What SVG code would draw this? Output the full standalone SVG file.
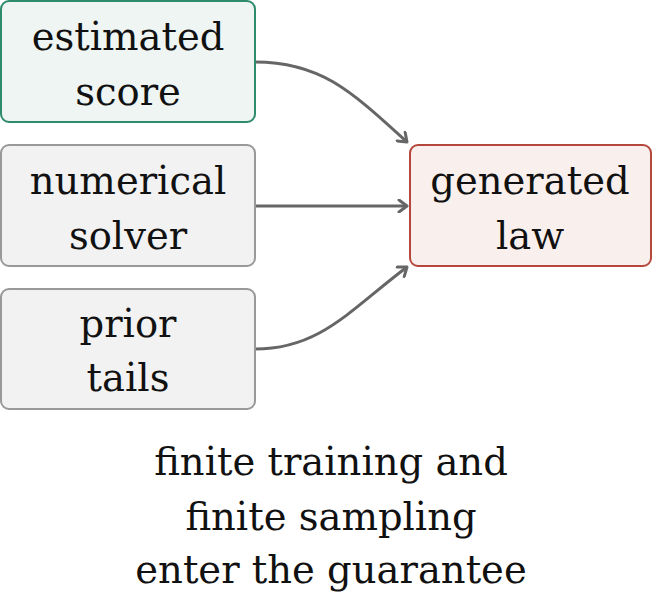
<svg xmlns="http://www.w3.org/2000/svg" width="652" height="598" viewBox="0 0 652 598">
<defs>
<style>
.t{font-family:"DejaVu Serif","Liberation Serif",serif;font-size:38.5px;fill:#111;text-anchor:middle}
.e{fill:none;stroke:#666;stroke-width:3}
</style>
<marker id="ah" markerWidth="14" markerHeight="14" refX="0" refY="0" viewBox="-10 -7 12 14" orient="auto" markerUnits="userSpaceOnUse">
<path d="M-8,-6 L0,0 L-8,6" fill="none" stroke="#666" stroke-width="3" stroke-linecap="round" stroke-linejoin="round"/>
</marker>
</defs>
<rect width="652" height="598" fill="#fff"/>
<g id="connectors">
<path class="e" d="M255,62 C320,62 350,90 407,142" marker-end="url(#ah)"/>
<path class="e" d="M255,206 L407,206" marker-end="url(#ah)"/>
<path class="e" d="M255,349 C320,349 350,310 407,267" marker-end="url(#ah)"/>
</g>
<g id="estimated-score">
<rect x="1" y="1" width="254" height="121" rx="8" fill="#eef5f2" stroke="#2e8b6e" stroke-width="2"/>
<text class="t" x="128" y="50">estimated</text>
<text class="t" x="128" y="105">score</text>
</g>
<g id="numerical-solver">
<rect x="1" y="145" width="254" height="121" rx="8" fill="#f2f2f2" stroke="#999" stroke-width="2"/>
<text class="t" x="128" y="194">numerical</text>
<text class="t" x="128" y="249">solver</text>
</g>
<g id="prior-tails">
<rect x="1" y="289" width="254" height="120" rx="8" fill="#f2f2f2" stroke="#999" stroke-width="2"/>
<text class="t" x="128" y="337">prior</text>
<text class="t" x="128" y="391">tails</text>
</g>
<g id="generated-law">
<rect x="410" y="145" width="241" height="121" rx="8" fill="#f9f0ee" stroke="#b5473c" stroke-width="2"/>
<text class="t" x="530" y="194">generated</text>
<text class="t" x="530" y="249">law</text>
</g>
<g id="caption">
<text class="t" x="331" y="475">finite training and</text>
<text class="t" x="331" y="530">finite sampling</text>
<text class="t" x="331" y="583">enter the guarantee</text>
</g>
</svg>
